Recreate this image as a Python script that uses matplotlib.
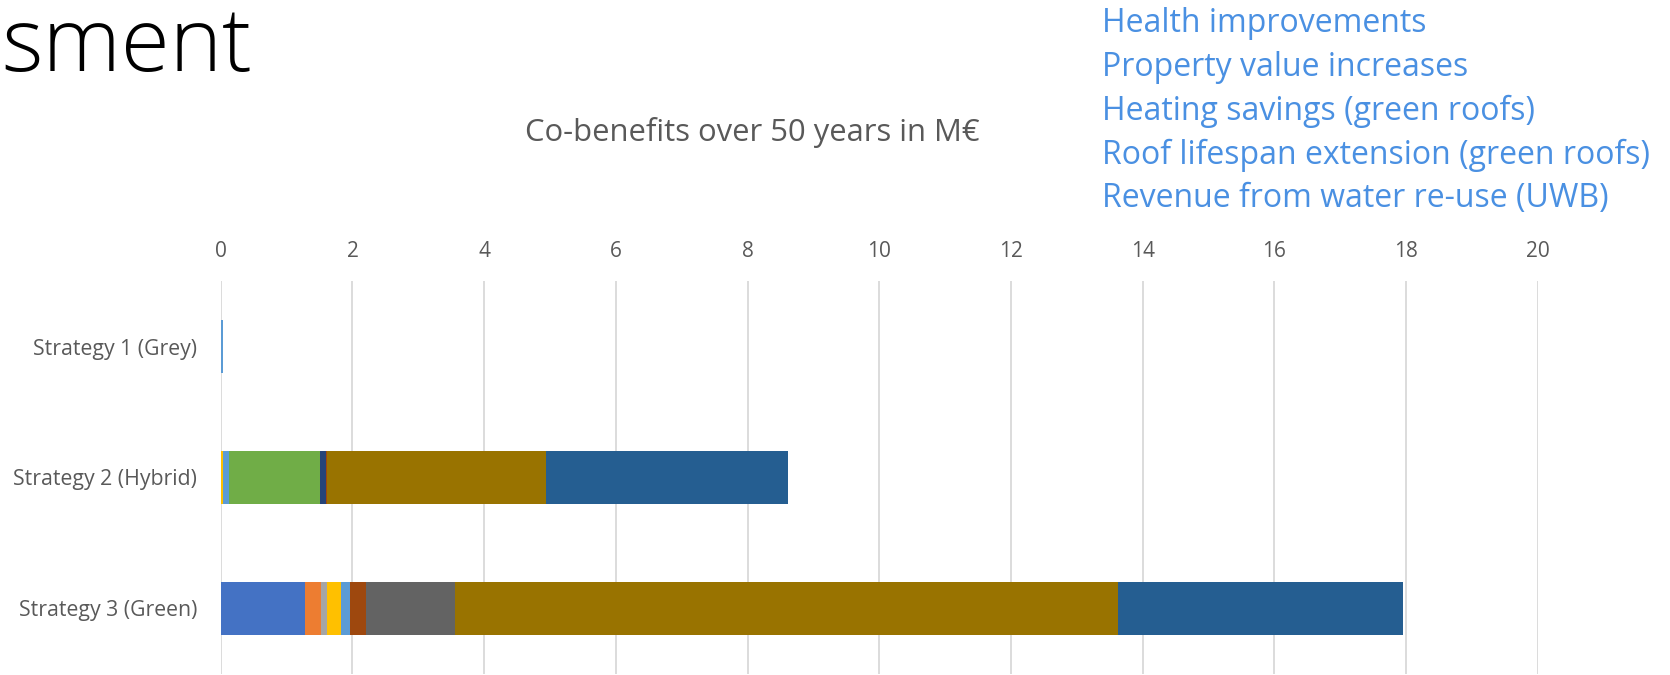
import numpy as np
import matplotlib.pyplot as plt

strategies = ['Strategy 1 (Grey)', 'Strategy 2 (Hybrid)', 'Strategy 3 (Green)']
series_names = ['Series 1', 'Series 2', 'Series 3', 'Series 4', 'Series 5', 'Series 6',
                'Series 7', 'Series 8', 'Series 9', 'Series 10', 'Series 11']
# values in M EUR per series, one entry per strategy
series_values = [
    [0.00, 0.00, 1.28],
    [0.00, 0.00, 0.24],
    [0.00, 0.00, 0.09],
    [0.00, 0.03, 0.21],
    [0.03, 0.10, 0.14],
    [0.00, 1.38, 0.00],
    [0.00, 0.09, 0.00],
    [0.00, 0.02, 0.24],
    [0.00, 0.00, 1.36],
    [0.00, 3.32, 10.07],
    [0.00, 3.67, 4.32],
]
series_colors = ['#4472C4', '#ED7D31', '#A5A5A5', '#FFC000', '#5B9BD5', '#70AD47',
                 '#264478', '#9E480E', '#636363', '#997300', '#255E91']
x_ticks = [0, 2, 4, 6, 8, 10, 12, 14, 16, 18, 20]
chart_title = 'Co-benefits over 50 years in M€'
slide_title = 'sment'
benefit_lines = ['Health improvements', 'Property value increases',
                 'Heating savings (green roofs)', 'Roof lifespan extension (green roofs)',
                 'Revenue from water re-use (UWB)']


def main():
    plt.rcParams['font.family'] = ['Open Sans', 'DejaVu Sans']
    fig = plt.figure(figsize=(16.7, 6.75), dpi=100)
    ax = fig.add_axes([0.1322, 0.0015, 0.7886, 0.5822])

    y = np.arange(len(strategies))
    left = np.zeros(len(strategies))
    for name, vals, col in zip(series_names, series_values, series_colors):
        vals = np.array(vals)
        ax.barh(y, vals, left=left, height=0.4, color=col, label=name,
                edgecolor='none', zorder=3)
        left += vals

    ax.set_xlim(0, 20)
    ax.set_ylim(2.5, -0.5)
    ax.set_yticks(y)
    ax.set_yticklabels(strategies, fontsize=15.3, color='#595959')
    ax.set_xticks(x_ticks)
    ax.set_xticklabels([str(t) for t in x_ticks], fontsize=15, color='#595959')
    ax.xaxis.tick_top()
    ax.tick_params(axis='x', length=0, pad=14)
    ax.tick_params(axis='y', length=0, pad=17)
    ax.grid(axis='x', color='#D9D9D9', linewidth=1.3, zorder=0)
    for s in ax.spines.values():
        s.set_visible(False)

    fig.text(752 / 1670, 1 - 133 / 675, chart_title, ha='center', va='center',
             fontsize=22.3, color='#595959')
    fig.text(1 / 1670, 1 - 71 / 675, slide_title, ha='left', va='baseline',
             fontsize=64, color='black', fontweight='light')
    for i, line in enumerate(benefit_lines):
        fig.text(1102 / 1670, 1 - (32.5 + i * 43.7) / 675, line, ha='left',
                 va='baseline', fontsize=23, color='#4A90E2')

    plt.savefig('out.png', dpi=100)


if __name__ == '__main__':
    main()
